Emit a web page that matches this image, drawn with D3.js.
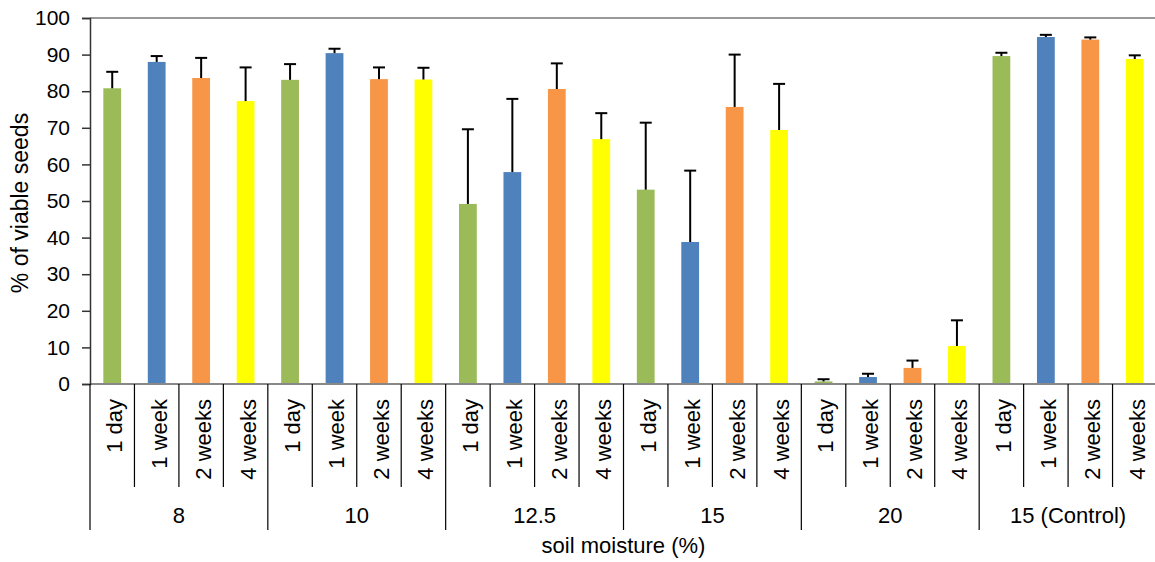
<!DOCTYPE html>
<html>
<head>
<meta charset="utf-8">
<script src="https://cdn.jsdelivr.net/npm/d3@7"></script>
<style>
  body { margin: 0; background: #fff; }
  svg { display: block; font-family: Arial, "Liberation Sans", sans-serif; }
</style>
</head>
<body>
<div id="chart"></div>
<script>
// data -----------------------------------------------------------------
const groups = ['8', '10', '12.5', '15', '20', '15 (Control)'];
const durations = ['1 day', '1 week', '2 weeks', '4 weeks'];
const colors = ['#9BBB59', '#4F81BD', '#F79646', '#FFFF00'];
// mean % viable seeds per duration, across groups
const day1 = [80.8, 83.1, 49.2, 53.1, 0.7, 89.6];
const week1 = [88.0, 90.4, 57.9, 38.8, 1.9, 94.8];
const weeks2 = [83.6, 83.3, 80.6, 75.7, 4.4, 94.1];
const weeks4 = [77.3, 83.2, 66.9, 69.4, 10.4, 88.8];
// upper error bars
const day1Err = [4.5, 4.3, 20.4, 18.3, 0.6, 0.9];
const week1Err = [1.6, 1.2, 20.0, 19.5, 0.9, 0.6];
const weeks2Err = [5.5, 3.2, 7.0, 14.3, 2.0, 0.6];
const weeks4Err = [9.2, 3.2, 7.1, 12.6, 7.0, 1.0];
const yTicks = [0, 10, 20, 30, 40, 50, 60, 70, 80, 90, 100];

const series = [day1, week1, weeks2, weeks4];
const errs = [day1Err, week1Err, weeks2Err, weeks4Err];

// flat table ------------------------------------------------------------
const rows = [];
groups.forEach((g, gi) => {
  durations.forEach((d, di) => {
    rows.push({ key: g + '|' + d, group: g, dur: d, di: di, value: series[di][gi], err: errs[di][gi] });
  });
});

// svg -------------------------------------------------------------------
const width = 1155, height = 562;
const margin = { top: 18, left: 90, right: 1157, bottom: 384 };

const svg = d3.select('#chart').append('svg')
  .attr('width', width)
  .attr('height', height);

// scales ----------------------------------------------------------------
const x = d3.scaleBand()
  .domain(rows.map(r => r.key))
  .range([margin.left, margin.right])
  .paddingInner(0)
  .paddingOuter(0);

const y = d3.scaleLinear()
  .domain([0, 100])
  .range([margin.bottom, margin.top]);

const barW = x.bandwidth() * 0.4;

// plot top border ----------------------------------------------------------
svg.append('line')
  .attr('x1', margin.left).attr('x2', margin.right)
  .attr('y1', y(100)).attr('y2', y(100))
  .attr('stroke', '#999').attr('stroke-width', 2);

// bars ------------------------------------------------------------------
svg.selectAll('.bar')
  .data(rows)
  .enter()
  .append('rect')
  .attr('class', 'bar')
  .attr('x', d => x(d.key) + (x.bandwidth() - barW) / 2)
  .attr('width', barW)
  .attr('y', d => y(d.value))
  .attr('height', d => y(0) - y(d.value))
  .attr('fill', d => colors[d.di]);

// error bars --------------------------------------------------------------
const eb = svg.selectAll('.err')
  .data(rows)
  .enter()
  .append('g')
  .attr('class', 'err')
  .attr('stroke', '#000')
  .attr('stroke-width', 2);
eb.append('line')
  .attr('x1', d => x(d.key) + x.bandwidth() / 2)
  .attr('x2', d => x(d.key) + x.bandwidth() / 2)
  .attr('y1', d => y(d.value))
  .attr('y2', d => y(d.value + d.err));
eb.append('line')
  .attr('x1', d => x(d.key) + x.bandwidth() / 2 - 6)
  .attr('x2', d => x(d.key) + x.bandwidth() / 2 + 6)
  .attr('y1', d => y(d.value + d.err))
  .attr('y2', d => y(d.value + d.err));

// x axis baseline -----------------------------------------------------------
svg.append('line')
  .attr('x1', margin.left).attr('x2', margin.right)
  .attr('y1', y(0)).attr('y2', y(0))
  .attr('stroke', '#888').attr('stroke-width', 2);

// y axis ------------------------------------------------------------------
const yAxis = d3.axisLeft(y)
  .tickValues(yTicks)
  .tickSize(8)
  .tickPadding(12);
const yg = svg.append('g')
  .attr('transform', 'translate(' + margin.left + ',0)')
  .call(yAxis);
yg.select('.domain').attr('stroke', '#333').attr('stroke-width', 1.5);
yg.selectAll('.tick line').attr('stroke', '#333').attr('stroke-width', 1.5);
yg.selectAll('.tick text')
  .attr('font-size', '21px')
  .attr('font-family', 'Arial, "Liberation Sans", sans-serif')
  .attr('fill', '#000');

// x category separators -----------------------------------------------------
svg.selectAll('.sep')
  .data(rows)
  .enter()
  .append('line')
  .attr('class', 'sep')
  .attr('x1', d => x(d.key))
  .attr('x2', d => x(d.key))
  .attr('y1', y(0))
  .attr('y2', d => d.di === 0 ? 530 : 487)
  .attr('stroke', '#000')
  .attr('stroke-width', 1.2);

// duration labels -----------------------------------------------------------
svg.selectAll('.dlab')
  .data(rows)
  .enter()
  .append('text')
  .attr('class', 'dlab')
  .attr('transform', d => 'translate(' + (x(d.key) + x.bandwidth() / 2) + ',399) rotate(-90)')
  .attr('dy', '0.45em')
  .attr('text-anchor', 'end')
  .attr('font-size', '22px')
  .text(d => d.dur);

// group labels --------------------------------------------------------------
const groupW = x.bandwidth() * durations.length;
svg.selectAll('.glab')
  .data(groups)
  .enter()
  .append('text')
  .attr('class', 'glab')
  .attr('x', g => x(g + '|' + durations[0]) + groupW / 2)
  .attr('y', 523)
  .attr('text-anchor', 'middle')
  .attr('font-size', '22px')
  .text(g => g);

// axis titles --------------------------------------------------------------
svg.append('text')
  .attr('x', (margin.left + margin.right) / 2)
  .attr('y', 553)
  .attr('text-anchor', 'middle')
  .attr('font-size', '22px')
  .text('soil moisture (%)');

svg.append('text')
  .attr('transform', 'translate(28,' + ((margin.top + margin.bottom) / 2 + 2) + ') rotate(-90)')
  .attr('text-anchor', 'middle')
  .attr('font-size', '23px')
  .text('% of viable seeds');
</script>
</body>
</html>
